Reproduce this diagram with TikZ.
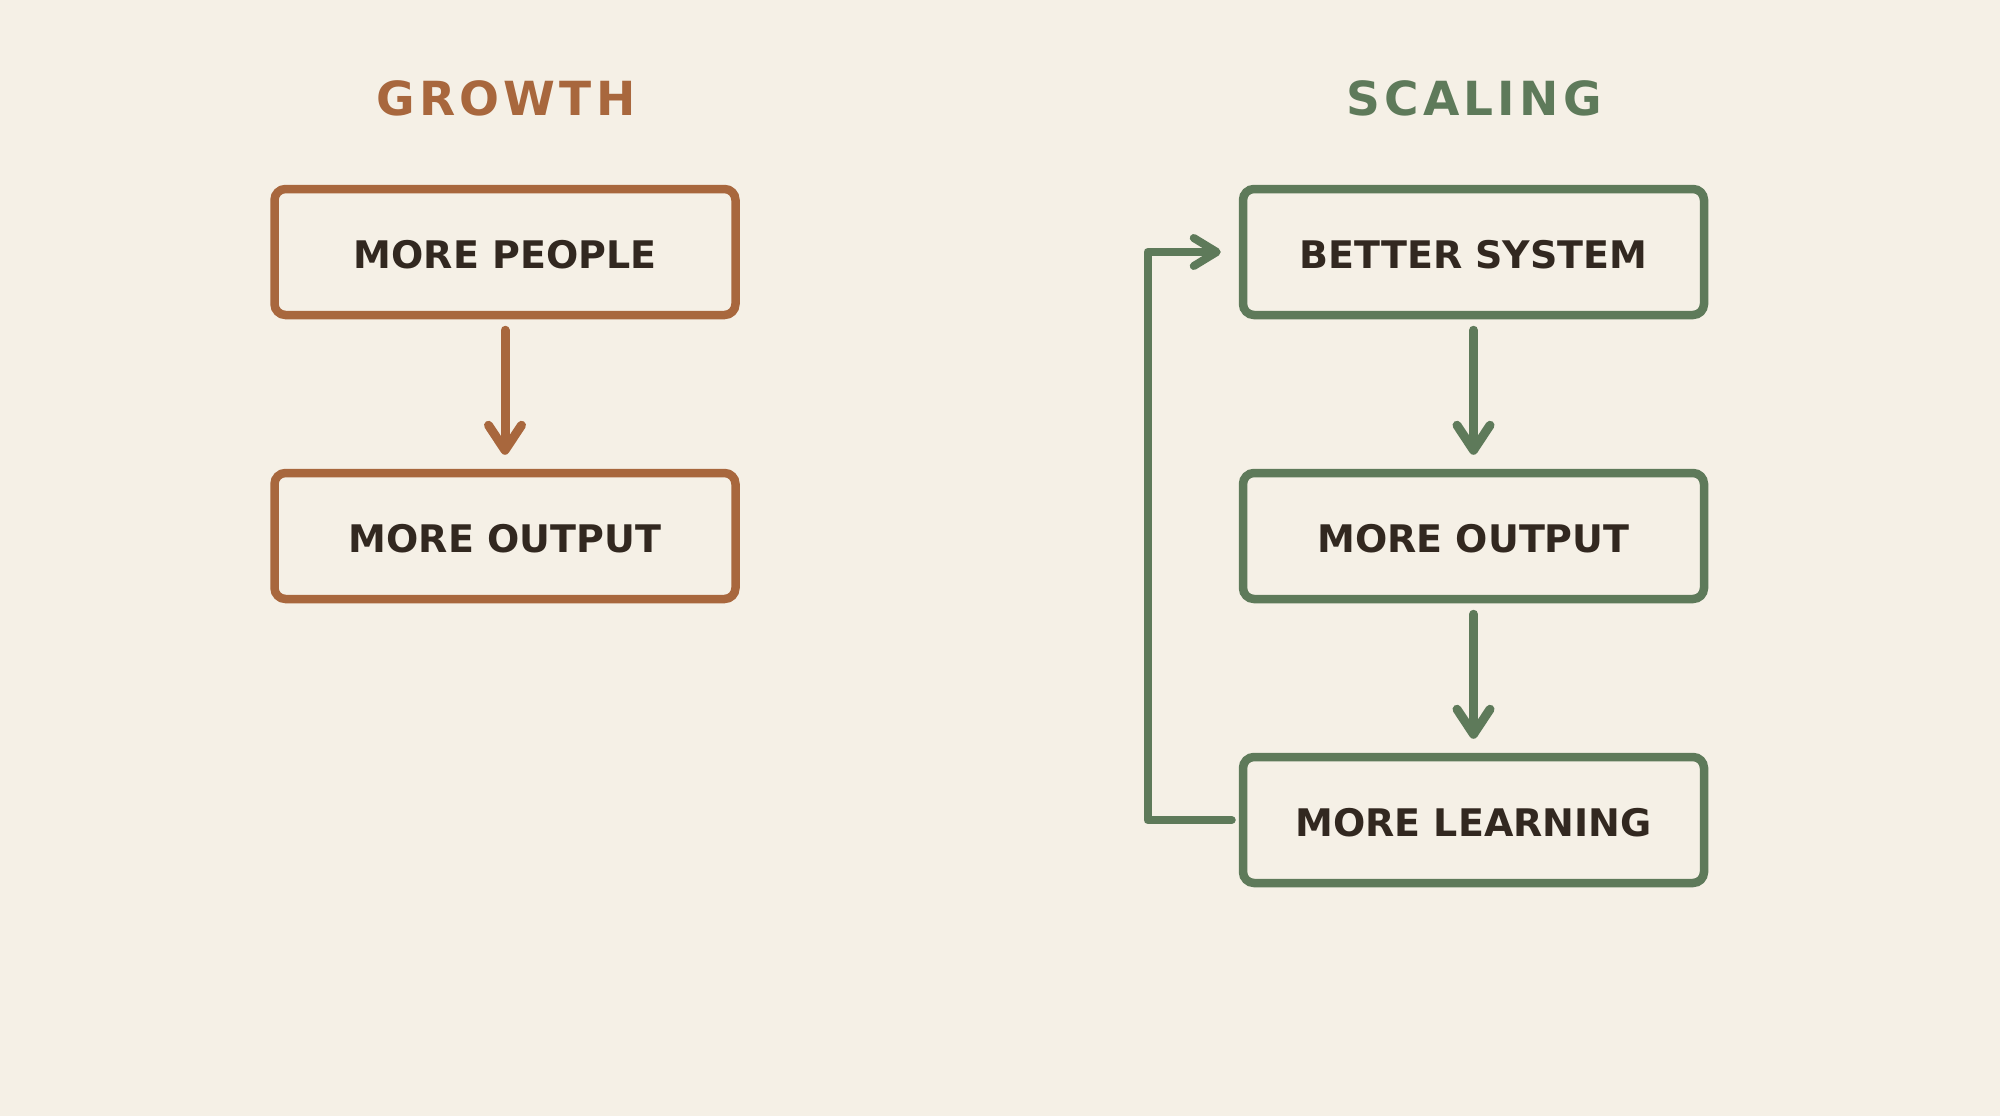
\documentclass[tikz,border=0pt]{standalone}
\usepackage{fontspec}
\setmainfont{DejaVu Sans}
\usetikzlibrary{arrows.meta}
\definecolor{bgc}{HTML}{F5F0E6}
\definecolor{brownc}{HTML}{A8673D}
\definecolor{greenc}{HTML}{5E7A5A}
\definecolor{inkc}{HTML}{322820}
\tikzset{
  box/.style={draw, rectangle, rounded corners=11pt, line width=8.5pt,
    minimum width=461pt, minimum height=126pt, inner sep=0pt,
    text=inkc, font=\bfseries\fontsize{38}{40}\selectfont, text height=33pt, text depth=0pt},
  title/.style={font=\bfseries\fontsize{47}{50}\selectfont\addfontfeature{LetterSpace=9},
    text height=34pt, text depth=0pt, inner sep=0pt},
  down/.style={line width=9pt, line cap=round,
    -{Straight Barb[round, length=25pt, width=33pt]}, shorten <=11pt, shorten >=14pt},
  fb/.style={draw=greenc, line width=8pt, line cap=round, line join=round,
    -{Straight Barb[round, length=23pt, width=28pt]}}
}
\begin{document}
\begin{tikzpicture}[x=1pt,y=-1pt]
\fill[bgc] (0,0) rectangle (2000,1116);
\useasboundingbox (0,0) rectangle (2000,1116);
% titles
\node[title, text=brownc] (t1) at (506,98.5) {GROWTH};
\node[title, text=greenc] (t2) at (1474,98.5) {SCALING};
% left column
\node[box, draw=brownc] (b1) at (505,252) {MORE PEOPLE};
\node[box, draw=brownc] (b2) at (505,536) {MORE OUTPUT};
\draw[down, draw=brownc] (b1.south) -- (b2.north);
% right column
\node[box, draw=greenc] (b4) at (1473.5,252) {BETTER SYSTEM};
\node[box, draw=greenc] (b5) at (1473.5,536) {MORE OUTPUT};
\node[box, draw=greenc] (b6) at (1473.5,820) {MORE LEARNING};
\draw[down, draw=greenc] (b4.south) -- (b5.north);
\draw[down, draw=greenc] (b5.south) -- (b6.north);
% feedback loop
\coordinate (fbx) at (1147.5,536);
\draw[fb, shorten <=7pt, shorten >=18pt] (b6.west) -- (b6.west -| fbx) -- (b4.west -| fbx) -- (b4.west);
\end{tikzpicture}
\end{document}
